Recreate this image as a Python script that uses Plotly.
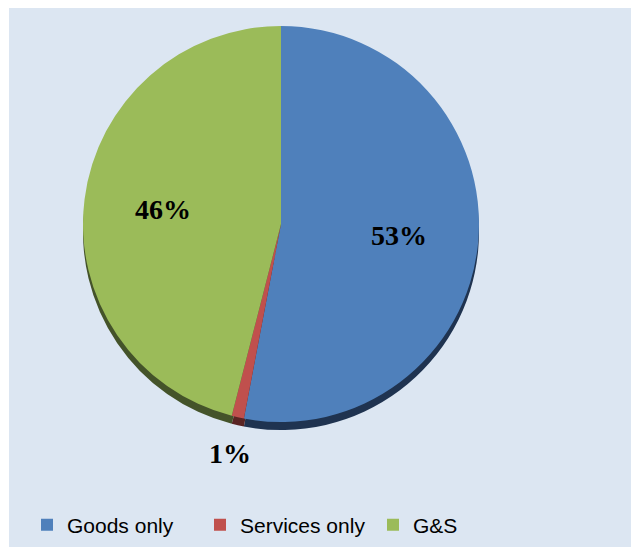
import math
import plotly.graph_objects as go

labels = ["Goods only", "Services only", "G&S"]
values = [53, 1, 46]
colors = ["#4F80BB", "#C0504D", "#9BBB59"]
rim_colors = ["#1F3350", "#5A2423", "#44532A"]
label_radius = [0.6, 1.19, 0.6]

W, H = 631, 547
cx, cy, r = 281, 224, 198
rim = 8

def dom(cx, cy, r):
    return dict(x=[(cx - r) / W, (cx + r) / W], y=[1 - (cy + r) / H, 1 - (cy - r) / H])

fig = go.Figure()
fig.add_trace(go.Pie(
    labels=labels, values=values, sort=False, direction="clockwise", rotation=0,
    marker=dict(colors=rim_colors, line=dict(width=0)),
    textinfo="none", hoverinfo="skip", showlegend=False,
    domain=dom(cx, cy + rim, r),
))
fig.add_trace(go.Pie(
    labels=labels, values=values, sort=False, direction="clockwise", rotation=0,
    marker=dict(colors=colors, line=dict(width=0)),
    textinfo="none",
    domain=dom(cx, cy, r),
))

# percentage labels placed at each slice's mid-angle
total = sum(values)
annotations = []
cum = 0
for v, k in zip(values, label_radius):
    mid = (cum + v / 2) / total * 2 * math.pi
    cum += v
    px = cx + k * r * math.sin(mid)
    py = cy - k * r * math.cos(mid)
    annotations.append(dict(
        x=px / W, y=1 - py / H, xref="paper", yref="paper", showarrow=False,
        xanchor="center", yanchor="middle",
        text="<b>%d%%</b>" % round(v / total * 100),
        font=dict(family="Liberation Serif", size=28, color="black"),
    ))

fig.update_layout(
    width=W, height=H,
    margin=dict(l=0, r=0, t=0, b=0),
    paper_bgcolor="white",
    shapes=[dict(type="rect", xref="paper", yref="paper",
                 x0=9 / W, x1=1, y0=0, y1=1 - 8 / H,
                 fillcolor="#DCE6F2", line=dict(width=0), layer="below")],
    annotations=annotations,
    legend=dict(orientation="h", x=27 / W, xanchor="left", y=1 - 525 / H, yanchor="middle",
                font=dict(family="Liberation Sans", size=21, color="black"),
                entrywidth=128, entrywidthmode="pixels",
                bgcolor="rgba(0,0,0,0)", traceorder="normal"),
)

fig.write_html("out.html")
